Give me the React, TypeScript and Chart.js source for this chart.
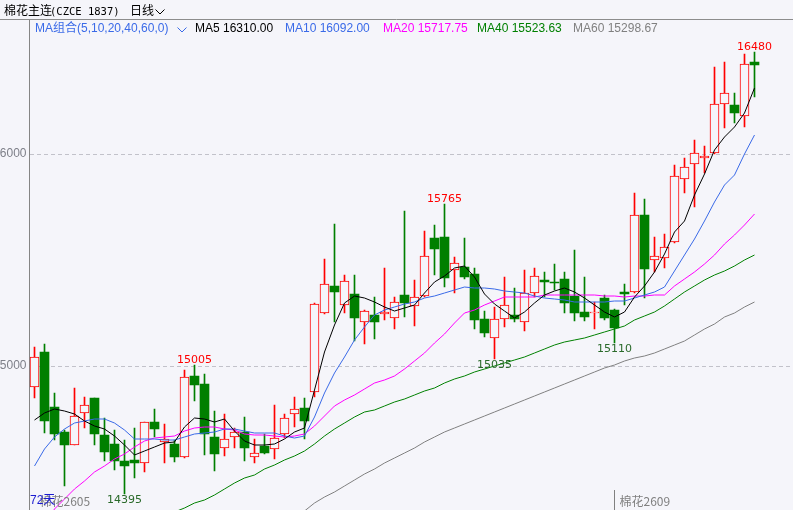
import React, { useEffect, useRef } from 'react';
import { Chart, registerables } from 'chart.js';

Chart.register(...registerables);

// ---------------- data ----------------
const opens = [
  14902, 15067, 14808, 14687, 14629, 14777, 14848, 14673, 14632, 14552,
  14557, 14541, 14736, 14641, 14632, 14569, 14953, 14915, 14667, 14612,
  14667, 14690, 14569, 14623, 14607, 14678, 14774, 14800, 14879, 15251,
  15377, 15286, 15340, 15206, 15241, 15244, 15228, 15335, 15284, 15330,
  15604, 15607, 15453, 15466, 15434, 15220, 15131, 15220, 15239, 15209,
  15343, 15406, 15398, 15410, 15332, 15253, 15250, 15322, 15264, 15348,
  15348, 15712, 15500, 15508, 15584, 15881, 15951, 15980, 16003, 16234,
  16231, 16181, 16434,
];
const highs = [
  15091, 15104, 14873, 14698, 14895, 14854, 14850, 14753, 14700, 14651,
  14706, 14734, 14797, 14726, 14651, 14981, 15005, 14962, 14788, 14774,
  14706, 14758, 14654, 14679, 14816, 14774, 14852, 14848, 15296, 15505,
  15670, 15429, 15429, 15264, 15327, 15464, 15327, 15733, 15406, 15637,
  15665, 15765, 15513, 15602, 15461, 15261, 15277, 15418, 15369, 15453,
  15461, 15445, 15481, 15445, 15547, 15418, 15303, 15335, 15268, 15387,
  15815, 15786, 15607, 15621, 15948, 15983, 16066, 16038, 16412, 16435,
  16289, 16472, 16480,
];
const lows = [
  14848, 14685, 14651, 14436, 14625, 14708, 14627, 14553, 14509, 14395,
  14470, 14499, 14667, 14541, 14546, 14565, 14836, 14580, 14506, 14577,
  14612, 14553, 14541, 14585, 14560, 14659, 14714, 14654, 14855, 15245,
  15209, 15251, 15119, 15104, 15127, 15217, 15175, 15233, 15189, 15325,
  15429, 15371, 15343, 15409, 15175, 15135, 15035, 15185, 15209, 15166,
  15324, 15324, 15358, 15251, 15214, 15214, 15173, 15217, 15110, 15288,
  15345, 15319, 15445, 15461, 15580, 15817, 15751, 15912, 16000, 16121,
  16148, 16129, 16270,
];
const closes = [
  15041, 14742, 14679, 14627, 14766, 14815, 14679, 14594, 14553, 14528,
  14541, 14734, 14701, 14657, 14569, 14947, 14910, 14677, 14583, 14654,
  14687, 14615, 14588, 14588, 14659, 14753, 14797, 14742, 15291, 15385,
  15350, 15401, 15228, 15259, 15209, 15253, 15300, 15296, 15324, 15519,
  15550, 15416, 15484, 15418, 15217, 15154, 15220, 15288, 15220, 15343,
  15425, 15398, 15390, 15299, 15249, 15233, 15256, 15225, 15178, 15341,
  15712, 15456, 15520, 15563, 15896, 15937, 16003, 15991, 16236, 16286,
  16195, 16425, 16421,
];

const ma5 = [
  14745, 14778, 14795, 14790, 14774, 14741, 14717, 14703, 14670, 14627,
  14580, 14599, 14618, 14637, 14642, 14712, 14757, 14752, 14738, 14752,
  14693, 14646, 14627, 14627, 14632, 14656, 14689, 14708, 14887, 15066,
  15193, 15297, 15330, 15321, 15302, 15278, 15259, 15274, 15288, 15344,
  15396, 15425, 15462, 15472, 15420, 15340, 15292, 15259, 15226, 15255,
  15297, 15337, 15356, 15370, 15349, 15323, 15288, 15255, 15232, 15255,
  15325, 15377, 15443, 15528, 15632, 15684, 15807, 15906, 16019, 16080,
  16127, 16193, 16311,
];
const ma10 = [
  14528, 14609, 14665, 14703, 14729, 14741, 14748, 14749, 14731, 14698,
  14656, 14656, 14656, 14653, 14649, 14664, 14679, 14682, 14691, 14705,
  14705, 14693, 14686, 14684, 14684, 14670, 14659, 14670, 14761, 14873,
  14967, 15042, 15123, 15184, 15241, 15264, 15280, 15292, 15303, 15319,
  15330, 15344, 15358, 15373, 15370, 15366, 15361, 15356, 15351, 15344,
  15330, 15321, 15314, 15309, 15304, 15303, 15303, 15304, 15307, 15307,
  15321, 15333, 15349, 15373, 15448, 15524, 15599, 15684, 15774, 15854,
  15901, 16000, 16090,
];
const ma20 = [
  14156, 14245, 14325, 14373, 14420, 14458, 14500, 14528, 14559, 14587,
  14618, 14644, 14659, 14665, 14670, 14693, 14708, 14712, 14710, 14703,
  14698, 14679, 14675, 14675, 14672, 14667, 14670, 14679, 14715, 14762,
  14809, 14840, 14861, 14891, 14920, 14934, 14955, 14986, 15024, 15061,
  15109, 15151, 15203, 15249, 15264, 15288, 15307, 15326, 15326, 15326,
  15327, 15333, 15335, 15337, 15337, 15337, 15335, 15332, 15330, 15327,
  15328, 15330, 15333, 15337, 15377, 15410, 15443, 15481, 15524, 15576,
  15616, 15665, 15719,
];
const ma40 = [
  null, null, null, null, null, null, null, null, null, null,
  null, null, null, 14292, 14311, 14330, 14354, 14368, 14391, 14420,
  14448, 14472, 14486, 14514, 14535, 14557, 14576, 14597, 14634, 14672,
  14703, 14730, 14759, 14781, 14792, 14811, 14828, 14844, 14863, 14882,
  14896, 14920, 14939, 14955, 14972, 14986, 15000, 15014, 15026, 15042,
  15061, 15080, 15101, 15113, 15123, 15134, 15144, 15160, 15175, 15191,
  15217, 15234, 15257, 15285, 15316, 15351, 15377, 15406, 15429, 15450,
  15474, 15498, 15524,
];
const ma60 = [
  null, null, null, null, null, null, null, null, null, null,
  null, null, null, null, null, null, null, null, null, null,
  null, null, null, null, null, null, null, 14318, 14352, 14380,
  14408, 14436, 14463, 14490, 14516, 14542, 14565, 14590, 14612, 14642,
  14667, 14689, 14707, 14726, 14745, 14764, 14783, 14802, 14821, 14840,
  14858, 14877, 14896, 14915, 14934, 14953, 14972, 14991, 15007, 15024,
  15038, 15047, 15061, 15078, 15099, 15118, 15146, 15175, 15200, 15231,
  15250, 15278, 15303,
];

const maNames = ['MA5', 'MA10', 'MA20', 'MA40', 'MA60'];
const maLatest = ['16310.00', '16092.00', '15717.75', '15523.63', '15298.67'];
const yTickValues = [15000, 16000];
const peakIndices = [16, 41, 72];
const troughIndices = [9, 46, 58];
const titleName = '棉花主连';
const titleCode = '(CZCE 1837)';
const titlePeriod = '日线';
const maGroupLabel = 'MA组合(5,10,20,40,60,0)';
const dayCountLabel = '72天';
const contractMarks = [
  { index: 0, label: '棉花2605', tick: false },
  { index: 58, label: '棉花2609', tick: true },
];

// ---------------- styles / layout ----------------
const W = 793;
const H = 510;
const AXIS_W = 29.5;
const TOP = 20;
const STEP = 10; // px per candle
const PX_PER_POINT = 0.212;
const REF_VALUE = 16000;
const REF_PX = 154;
const BG = '#f5f5fa';
const UP = '#ff0000';
const DOWN = '#007f00';
const maColors = ['#000000', '#3a6ae8', '#ff00ff', '#008000', '#808080'];
const maHeaderX = [195, 285, 383, 477, 573];

const Y_MAX = REF_VALUE + (REF_PX - TOP) / PX_PER_POINT;
const Y_MIN = REF_VALUE - (H - REF_PX) / PX_PER_POINT;
const X_MIN = -0.5;
const X_MAX = X_MIN + (W - AXIS_W) / STEP;

const overlayPlugin = {
  id: 'overlay',
  beforeDraw(chart: any) {
    const ctx = chart.ctx;
    ctx.save();
    ctx.fillStyle = BG;
    ctx.fillRect(0, 0, chart.width, chart.height);
    ctx.strokeStyle = '#8c8c8c';
    ctx.lineWidth = 1;
    ctx.beginPath();
    ctx.moveTo(0, 19.5);
    ctx.lineTo(chart.width, 19.5);
    ctx.stroke();
    ctx.restore();
  },
  afterDraw(chart: any) {
    const ctx = chart.ctx;
    const xs = chart.scales.x;
    const ys = chart.scales.y;
    ctx.save();
    const chevron = (x: number, y: number, w: number, h: number, color: string) => {
      ctx.strokeStyle = color;
      ctx.lineWidth = 1;
      ctx.beginPath();
      ctx.moveTo(x, y);
      ctx.lineTo(x + w / 2, y + h);
      ctx.lineTo(x + w, y);
      ctx.stroke();
    };
    // title row
    ctx.textBaseline = 'alphabetic';
    ctx.textAlign = 'left';
    ctx.fillStyle = '#000000';
    ctx.font = '12px "Noto Sans CJK SC"';
    ctx.fillText(titleName, 4, 15);
    ctx.font = '10.5px "DejaVu Sans Mono"';
    ctx.fillText(titleCode, 50, 15);
    ctx.font = '12px "Noto Sans CJK SC"';
    ctx.fillText(titlePeriod, 130, 15);
    chevron(155.5, 9.5, 9, 4.5, '#000000');

    // MA header row
    ctx.font = '12px "Liberation Sans", "Noto Sans CJK SC"';
    ctx.fillStyle = '#3a6ae8';
    ctx.fillText(maGroupLabel, 35, 32);
    chevron(177.5, 27.5, 9, 4.5, '#3a6ae8');
    maNames.forEach((n, k) => {
      ctx.fillStyle = maColors[k];
      ctx.fillText(n + ' ' + maLatest[k], maHeaderX[k], 32);
    });

    // extreme labels
    ctx.font = '11px "DejaVu Sans"';
    ctx.textAlign = 'center';
    ctx.fillStyle = UP;
    ctx.textBaseline = 'alphabetic';
    peakIndices.forEach((i) => {
      const x = xs.getPixelForValue(i);
      const y = ys.getPixelForValue(highs[i]);
      ctx.fillText(String(highs[i]), x, y - 2);
    });
    ctx.fillStyle = '#2a6a2a';
    ctx.textBaseline = 'top';
    troughIndices.forEach((i) => {
      const x = xs.getPixelForValue(i);
      const y = ys.getPixelForValue(lows[i]);
      ctx.fillText(String(lows[i]), x, y + 1);
    });

    // bottom marks
    ctx.textAlign = 'left';
    ctx.textBaseline = 'alphabetic';
    contractMarks.forEach((m) => {
      const x = Math.floor(xs.getPixelForValue(m.index)) + 0.5;
      if (m.tick) {
        ctx.strokeStyle = '#808080';
        ctx.beginPath();
        ctx.moveTo(x, 490);
        ctx.lineTo(x, H);
        ctx.stroke();
      }
      ctx.fillStyle = '#808080';
      ctx.font = '12px "Noto Sans CJK SC"';
      ctx.fillText(m.label, x + 5, 506);
    });
    ctx.fillStyle = '#1a1ad0';
    ctx.font = '12px "Liberation Sans", "Noto Sans CJK SC"';
    ctx.fillText(dayCountLabel, 30, 504);
    ctx.restore();
  },
};

export default function App() {
  const ref = useRef<HTMLCanvasElement | null>(null);

  useEffect(() => {
    const canvas = ref.current;
    if (!canvas) return;
    const isUp = opens.map((o, i) => closes[i] >= o);
    const wickData = highs.map((h, i) => ({ x: i, y: [lows[i], h] }));
    const bodyData = opens.map((o, i) => ({
      x: i,
      y: [Math.min(o, closes[i]), Math.max(o, closes[i])],
    }));
    const lineDs = (arr: (number | null)[], k: number) => ({
      type: 'line' as const,
      label: maNames[k],
      data: arr.map((v, i) => ({ x: i, y: v })),
      borderColor: maColors[k],
      borderWidth: 1,
      pointRadius: 0,
      tension: 0,
      spanGaps: false,
      order: 1,
    });

    const chart = new Chart(canvas, {
      type: 'bar',
      data: {
        datasets: [
          {
            type: 'bar',
            label: 'wick',
            data: wickData as any,
            backgroundColor: isUp.map((u) => (u ? UP : DOWN)),
            borderWidth: 0,
            barThickness: 1,
            grouped: false,
            order: 3,
          },
          {
            type: 'bar',
            label: 'body',
            data: bodyData as any,
            backgroundColor: isUp.map((u) => (u ? BG : DOWN)),
            borderColor: isUp.map((u) => (u ? UP : DOWN)),
            borderWidth: isUp.map((u) => (u ? 1 : 0)) as any,
            borderSkipped: false,
            barThickness: 9,
            minBarLength: 1,
            grouped: false,
            order: 2,
          },
          lineDs(ma5, 0),
          lineDs(ma10, 1),
          lineDs(ma20, 2),
          lineDs(ma40, 3),
          lineDs(ma60, 4),
        ] as any,
      },
      options: {
        responsive: false,
        animation: false,
        events: [],
        layout: { padding: { top: TOP, left: 0, right: 0, bottom: 0 } },
        plugins: { legend: { display: false }, tooltip: { enabled: false } },
        scales: {
          x: {
            type: 'linear',
            min: X_MIN,
            max: X_MAX,
            display: false,
            offset: false,
          },
          y: {
            type: 'linear',
            position: 'left',
            min: Y_MIN,
            max: Y_MAX,
            alignToPixels: true,
            afterBuildTicks: (s: any) => {
              s.ticks = yTickValues.map((v) => ({ value: v }));
            },
            afterFit: (s: any) => {
              s.width = AXIS_W;
              s.paddingTop = 0;
              s.paddingBottom = 0;
            },
            grid: { color: '#c2c2ca', lineWidth: 1, drawTicks: false },
            border: { display: true, color: '#858585', width: 1, dash: [4, 3] },
            ticks: {
              color: '#7d7f88',
              padding: 3,
              font: { family: '"Liberation Sans"', size: 12 },
              callback: (v: any) => String(v),
            },
          },
        },
      } as any,
      plugins: [overlayPlugin],
    });
    return () => chart.destroy();
  }, []);

  return (
    <div style={{ position: 'absolute', left: 0, top: 0, width: W, height: H, background: BG }}>
      <canvas ref={ref} width={W} height={H} style={{ display: 'block', width: W, height: H }} />
    </div>
  );
}
